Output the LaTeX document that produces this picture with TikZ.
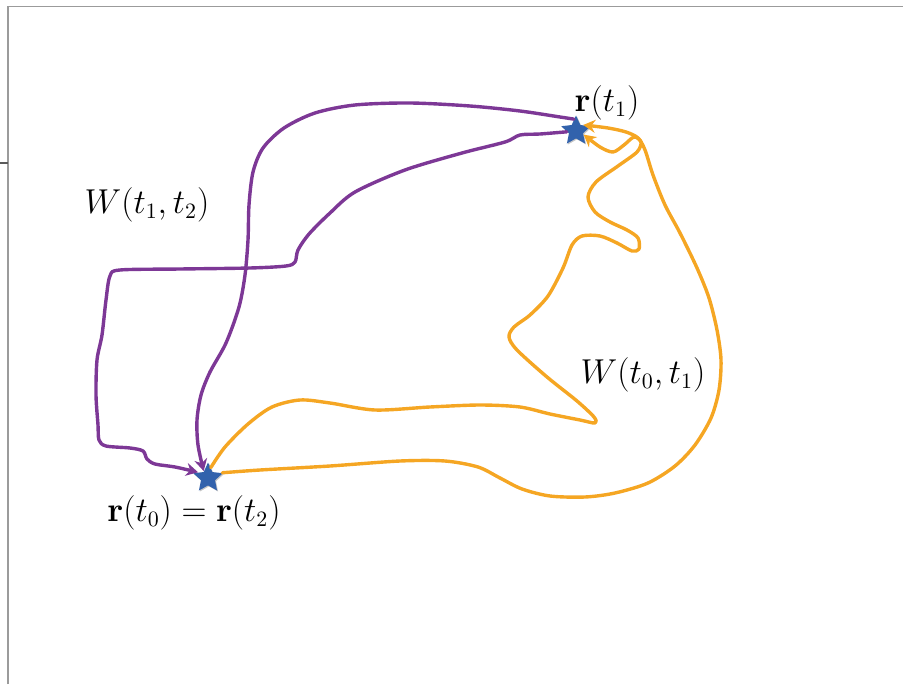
\documentclass[tikz,border=0pt]{standalone}
\usepackage{amsmath}
\usepackage{tikz}
\usetikzlibrary{shapes.geometric, arrows.meta, positioning, shadows}
\definecolor{pathpurple}{RGB}{125, 56, 150}
\definecolor{pathorange}{RGB}{245, 166, 35}
\definecolor{starblue}{RGB}{50, 98, 172}
\definecolor{framegrey}{RGB}{155, 155, 155}
\definecolor{tickgrey}{RGB}{90, 90, 90}

\begin{document}
\begin{tikzpicture}[
    x=0.5pt, y=-0.5pt,
    endpoint/.style={
        star, star points=5, star point ratio=2.1, fill=starblue, draw=none,
        minimum size=15.5pt, inner sep=0pt,
        drop shadow={opacity=0.45, shadow xshift=0.5pt, shadow yshift=-0.5pt}
    },
    returnpath/.style={
        -{Stealth[length=6pt, width=6.5pt, inset=2pt]}, line width=1.7pt, draw=pathpurple,
        line join=round, line cap=round
    },
    forwardpath/.style={
        -{Stealth[length=6pt, width=6.5pt, inset=2pt]}, line width=1.7pt, draw=pathorange,
        line join=round, line cap=round
    },
    timelabel/.style={
        font=\fontsize{16.3}{20}\selectfont, inner sep=0pt
    },
    frameline/.style={
        line width=0.6pt, draw=framegrey
    }
]
\useasboundingbox (0,0) rectangle (903,684);

% Frame lines
\draw[frameline] (8,684) -- (8,6.5) -- (903,6.5);
\draw[frameline, draw=tickgrey] (0,163) -- (8,163);

% Start / end points
\node[endpoint] (rone) at (576,131) {};
\node[endpoint] (rzero) at (208,478) {};

% Labels
\node[timelabel] (ronelbl) at (607,103) {$\mathbf{r}(t_1)$};
\node[timelabel] (rzerolbl) at (194,513) {$\mathbf{r}(t_0)=\mathbf{r}(t_2)$};
\node[timelabel] (wback) at (147,205) {$W(t_1,t_2)$};
\node[timelabel] (wforth) at (643,375) {$W(t_0,t_1)$};

% Forward walks (orange): r(t0) -> r(t1)
\draw[forwardpath] plot[smooth, tension=0.5] coordinates {(rzero.20) (260,470) (330,466)
    (400,461) (445,461) (478,467) (500,478) (522,489) (550,496) (585,497) (615,493)
    (648,483) (675,466) (695,445) (711,418) (719,390) (721,360) (717,330) (709,298)
    (697,268) (680,233) (665,205) (653,175) (645,150) (638,138) (626,132) (608,128)
    (rone.40)};
\draw[forwardpath] plot[smooth, tension=0.5] coordinates {(rzero.75) (225,447) (248,424)
    (272,407) (300,400) (330,403) (375,410) (430,407) (480,405) (520,407) (550,414)
    (580,420) (595,423) (594,417) (577,401) (547,377) (517,350) (509,337) (514,327)
    (530,315) (548,296) (563,268) (572,245) (582,236) (600,236) (617,243) (632,251)
    (639,249) (638,238) (627,230) (610,222) (595,212) (588,197) (596,182) (618,166)
    (637,152) (641,142) (634,137) (624,145) (613,152) (600,147) (rone.-25)};

% Return walks (purple): r(t1) -> r(t2)
\draw[returnpath] plot[smooth, tension=0.5] coordinates {(rone.100) (560,117) (520,111)
    (470,106) (410,103) (355,105) (315,113) (284,128) (263,148) (253,172) (249,205)
    (248,240) (245,275) (239,307) (226,343) (210,372) (201,395) (197,420) (198,445)
    (rzero.122)};
\draw[returnpath] plot[smooth, tension=0.5] coordinates {(rone.185) (540,134) (520,135)
    (505,142) (462,153) (405,170) (355,192) (330,213) (309,234) (298,250) (295,262)
    (286,266) (250,268) (180,269) (120,270) (110,276) (106,300) (102,335) (97,360)
    (96,395) (98,425) (99,440) (106,446) (130,448) (143,451) (147,459) (155,464)
    (175,467) (rzero.150)};

\end{tikzpicture}
\end{document}
